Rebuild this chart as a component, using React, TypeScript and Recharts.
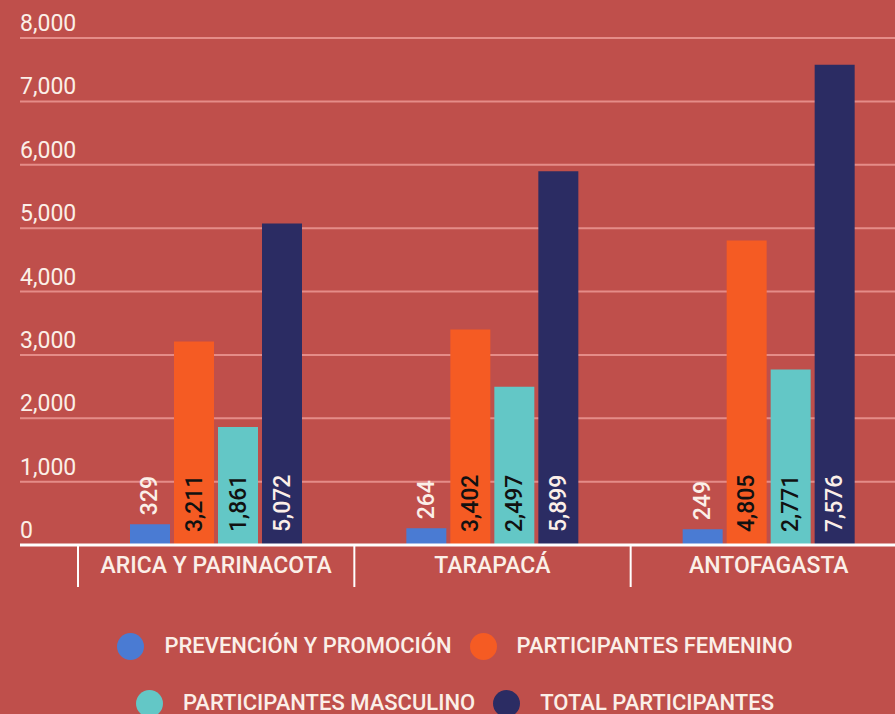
import React from 'react';
import { BarChart, Bar, XAxis, YAxis, CartesianGrid, Legend, LabelList } from 'recharts';

const regions = ['ARICA Y PARINACOTA', 'TARAPACÁ', 'ANTOFAGASTA'];
const prevencion = [329, 264, 249];
const femenino = [3211, 3402, 4805];
const masculino = [1861, 2497, 2771];
const total = [5072, 5899, 7576];
const yTicks = [0, 1000, 2000, 3000, 4000, 5000, 6000, 7000, 8000];

const seriesNames = [
  'PREVENCIÓN Y PROMOCIÓN',
  'PARTICIPANTES FEMENINO',
  'PARTICIPANTES MASCULINO',
  'TOTAL PARTICIPANTES',
];

const BG = '#bf4f4b';
const TEXT = '#fbefe8';
const GRID = '#e58c88';
const COLORS = ['#4a7bd3', '#f55b23', '#63c7c6', '#2b2c63'];
const FONT = 'Roboto, sans-serif';
const PLOT_LEFT = 20;

const data = regions.map((region, i) => ({
  region,
  prevencion: prevencion[i],
  femenino: femenino[i],
  masculino: masculino[i],
  total: total[i],
}));

const fmt = (v: number) => Number(v).toLocaleString('en-US');

const YTick = (props: any) => {
  const { y, payload } = props;
  return (
    <text x={PLOT_LEFT} y={y - 7} fill={TEXT} fontSize={23} fontFamily={FONT} textAnchor="start">
      {fmt(payload.value)}
    </text>
  );
};

const XTick = (props: any) => {
  const { x, y, payload, index } = props;
  const half = payload.offset || 138;
  return (
    <g>
      <line x1={x - half} x2={x - half} y1={y} y2={y + 42} stroke="#fff" strokeWidth={2} />
      {index === regions.length - 1 && (
        <line x1={x + half} x2={x + half} y1={y} y2={y + 42} stroke="#fff" strokeWidth={2} />
      )}
      <text x={x} y={y + 28} fill={TEXT} fontSize={23} fontWeight={500} fontFamily={FONT} textAnchor="middle">
        {payload.value}
      </text>
    </g>
  );
};

// rotated value label, either above the bar or inside at its base
const makeLabel = (color: string, outside: boolean) => (props: any) => {
  const { x, y, width, height, value } = props;
  const cx = x + width / 2;
  const sy = outside ? y - 9 : y + height - 13;
  return (
    <text
      x={cx}
      y={sy}
      transform={`rotate(-90, ${cx}, ${sy})`}
      fill={color}
      fontSize={23}
      fontWeight={500}
      fontFamily={FONT}
      textAnchor="start"
      dominantBaseline="central"
    >
      {fmt(value)}
    </text>
  );
};

const renderLegend = (props: any) => {
  const items = [...(props.payload || [])].sort(
    (a: any, b: any) => seriesNames.indexOf(a.value) - seriesNames.indexOf(b.value)
  );
  const rows = [items.slice(0, 2), items.slice(2, 4)];
  return (
    <div style={{ position: 'relative', width: 895, height: 120 }}>
      {rows.map((row: any[], i: number) => (
        <div
          key={i}
          style={{
            position: 'absolute',
            left: 15,
            right: 0,
            top: i === 0 ? 38 : 95,
            height: 28,
            display: 'flex',
            justifyContent: 'center',
            alignItems: 'center',
            gap: 18,
          }}
        >
          {row.map((item: any) => (
            <div key={item.value} style={{ display: 'flex', alignItems: 'center' }}>
              <span
                style={{
                  width: 27,
                  height: 27,
                  borderRadius: '50%',
                  background: item.color,
                  display: 'inline-block',
                }}
              />
              <span
                style={{
                  marginLeft: 20,
                  color: TEXT,
                  fontSize: 22,
                  fontWeight: 500,
                  fontFamily: FONT,
                  lineHeight: 1,
                  whiteSpace: 'nowrap',
                }}
              >
                {item.value}
              </span>
            </div>
          ))}
        </div>
      ))}
    </div>
  );
};

export default function App() {
  return (
    <div
      style={{
        position: 'absolute',
        left: 0,
        top: 0,
        width: 895,
        height: 714,
        overflow: 'hidden',
        background: BG,
      }}
    >
      <BarChart
        width={912}
        height={714}
        data={data}
        margin={{ top: 38, right: 5, left: PLOT_LEFT, bottom: 0 }}
        barSize={40}
        barGap={4}
      >
        <CartesianGrid vertical={false} stroke={GRID} strokeWidth={2} />
        <XAxis
          dataKey="region"
          height={49}
          padding={{ left: 58, right: 0 }}
          axisLine={{ stroke: '#fff', strokeWidth: 3 }}
          tickLine={false}
          tickSize={0}
          tickMargin={0}
          tick={<XTick />}
          interval={0}
        />
        <YAxis
          mirror
          width={60}
          domain={[0, 8000]}
          ticks={yTicks}
          interval={0}
          axisLine={false}
          tickLine={false}
          tick={<YTick />}
        />
        <Legend
          verticalAlign="bottom"
          content={renderLegend}
          itemSorter={null}
          wrapperStyle={{ left: 0, width: 895 }}
        />
        <Bar dataKey="prevencion" name={seriesNames[0]} fill={COLORS[0]} isAnimationActive={false}>
          <LabelList dataKey="prevencion" content={makeLabel(TEXT, true)} />
        </Bar>
        <Bar dataKey="femenino" name={seriesNames[1]} fill={COLORS[1]} isAnimationActive={false}>
          <LabelList dataKey="femenino" content={makeLabel('#111', false)} />
        </Bar>
        <Bar dataKey="masculino" name={seriesNames[2]} fill={COLORS[2]} isAnimationActive={false}>
          <LabelList dataKey="masculino" content={makeLabel('#111', false)} />
        </Bar>
        <Bar dataKey="total" name={seriesNames[3]} fill={COLORS[3]} isAnimationActive={false}>
          <LabelList dataKey="total" content={makeLabel(TEXT, false)} />
        </Bar>
      </BarChart>
    </div>
  );
}
